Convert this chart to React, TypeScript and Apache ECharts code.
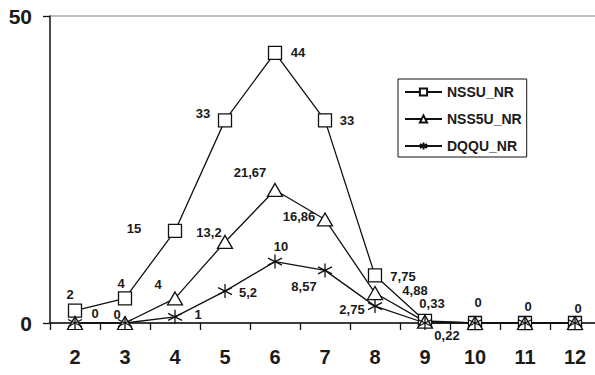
import React, { useEffect, useRef } from "react";
import * as echarts from "echarts";

const categories = ["2", "3", "4", "5", "6", "7", "8", "9", "10", "11", "12"];
const nssu = [2, 4, 15, 33, 44, 33, 7.75, 0.33, 0, 0, 0];
const nss5u = [0, 0, 4, 13.2, 21.67, 16.86, 4.88, 0.22, 0, 0, 0];
const dqqu = [0, 0, 1, 5.2, 10, 8.57, 2.75, 0, 0, 0, 0];
const seriesNames = ["NSSU_NR", "NSS5U_NR", "DQQU_NR"];
const yTicks = [0, 50];

// label offsets (null = hidden)
const nssuLabelOffsets: ([number, number] | null)[] = [
  [-5, -16], [-4, -15], [-41, -2], [-22, -7], [23, 0], [22, 0], [28, 1], [7, -17], [3, -21], [3, -17], [3, -15],
];
const nss5uLabelOffsets: ([number, number] | null)[] = [
  [20, -10], [-8, -9], [-17, -14], [-16, -9], [-25, -17], [-26, -3], [40, -3], [22, 14], null, null, null,
];
const dqquLabelOffsets: ([number, number] | null)[] = [
  null, null, [23, -2], [23, 1], [6, -15], [-21, 16], [-23, 3], null, null, null, null,
];

const fmt = (v: number) => String(v).replace(".", ",");

const STAR = "path://M0,-10L0,10M-8.66,-5L8.66,5M-8.66,5L8.66,-5";

function buildData(values: number[], offsets: ([number, number] | null)[]) {
  return values.map((v, i) => {
    const off = offsets[i];
    return {
      value: v,
      label: off
        ? { show: true, position: "inside", offset: off, formatter: fmt(v) }
        : { show: false },
    };
  });
}

export default function App() {
  const ref = useRef<HTMLDivElement>(null);
  useEffect(() => {
    if (!ref.current) return;
    const chart = echarts.init(ref.current, undefined, { renderer: "svg" });
    const textColor = "#1a1a1a";
    const labelStyle = {
      fontFamily: "Liberation Sans",
      fontWeight: "bold",
      fontSize: 13,
      color: textColor,
    };
    const common = {
      type: "line",
      lineStyle: { color: "#111", width: 1.3 },
      itemStyle: { color: "#fff", borderColor: "#111", borderWidth: 1.3 },
      label: labelStyle,
      showAllSymbol: true,
      z: 3,
    };
    chart.setOption({
      animation: false,
      backgroundColor: "#fff",
      grid: { left: 50, top: 16, width: 550, height: 307, outerBoundsMode: "none", containLabel: false },
      legend: {
        orient: "vertical",
        left: 398,
        top: 79,
        padding: [6, 5, 4, 6],
        itemGap: 13,
        itemWidth: 37,
        itemHeight: 9,
        borderColor: "#111",
        borderWidth: 1,
        backgroundColor: "#fff",
        textStyle: {
          fontFamily: "Liberation Sans",
          fontWeight: "bold",
          fontSize: 14,
          lineHeight: 14,
          color: textColor,
          padding: [0, 0, 0, 0],
        },
        data: seriesNames,
      },
      xAxis: {
        type: "category",
        data: categories,
        boundaryGap: true,
        axisLine: { lineStyle: { color: "#111", width: 1.5 } },
        axisTick: { show: true, length: 7, lineStyle: { color: "#111", width: 1.3 } },
        axisLabel: {
          margin: 24,
          fontFamily: "Liberation Sans",
          fontWeight: "bold",
          fontSize: 20,
          color: textColor,
        },
      },
      yAxis: {
        type: "value",
        min: yTicks[0],
        max: yTicks[1],
        interval: 50,
        axisLine: { show: true, lineStyle: { color: "#111", width: 1.5 } },
        axisTick: { show: true, length: 7, lineStyle: { color: "#111", width: 1.3 } },
        splitLine: { show: true, lineStyle: { color: "#aaa", width: 1.5 } },
        axisLabel: {
          margin: 18,
          fontFamily: "Liberation Sans",
          fontWeight: "bold",
          fontSize: 21,
          color: textColor,
        },
      },
      series: [
        {
          ...common,
          name: seriesNames[0],
          symbol: "rect",
          symbolSize: 13,
          data: buildData(nssu, nssuLabelOffsets),
        },
        {
          ...common,
          name: seriesNames[1],
          symbol: "triangle",
          symbolSize: [15, 13],
          data: buildData(nss5u, nss5uLabelOffsets),
        },
        {
          ...common,
          name: seriesNames[2],
          symbol: STAR,
          symbolSize: 14,
          data: buildData(dqqu, dqquLabelOffsets),
        },
      ],
    });
    return () => chart.dispose();
  }, []);
  return (
    <div
      ref={ref}
      style={{ position: "fixed", left: 0, top: 0, width: 595, height: 375 }}
    />
  );
}
